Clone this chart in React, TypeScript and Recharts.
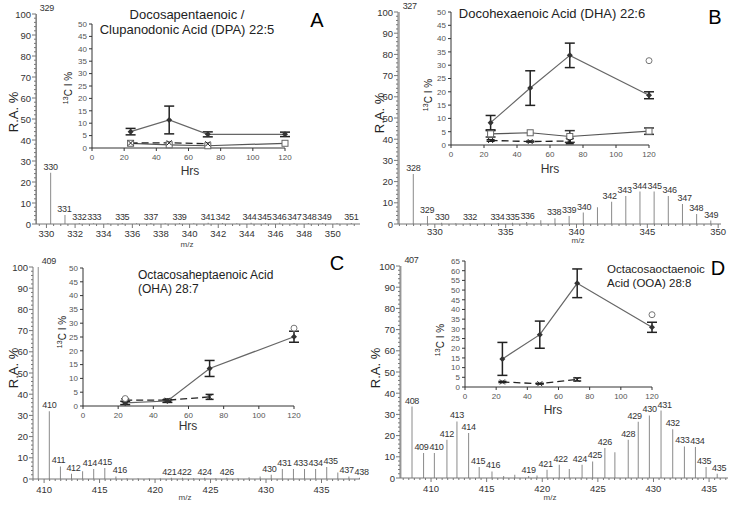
import React from 'react';
import { ComposedChart, Bar, Line, XAxis, YAxis, LabelList, ErrorBar } from 'recharts';

const FONT = '"Liberation Sans", Arial, sans-serif';

// ---- spectrum A : DPA 22:5
const aMz = [329.27, 330.27, 331.27, 332.27, 333.27, 334.27, 335.27, 336.27, 337.27, 338.27, 339.27, 340.27, 341.27, 342.27, 343.27, 344.27, 345.27, 346.27, 347.27, 348.27, 349.27, 350.27, 351.27];
const aRa = [100, 24.4, 4.3, 0.5, 0.4, 0.3, 0.5, 0.3, 0.5, 0.3, 0.5, 0.3, 0.6, 0.5, 0.3, 0.6, 0.5, 0.6, 0.5, 0.5, 0.5, 0.3, 0.5];
const aPeak = ['329', '330', '331', '332', '333', '', '335', '', '337', '', '339', '', '341', '342', '', '344', '345', '346', '347', '348', '349', '', '351'];
const aMajor = [330, 332, 334, 336, 338, 340, 342, 344, 346, 348, 350];

// ---- spectrum B : DHA 22:6
const bMz = [327.45, 328.45, 329.45, 330.45, 331.45, 332.45, 333.45, 334.45, 335.45, 336.45, 337.45, 338.45, 339.45, 340.45, 341.45, 342.45, 343.45, 344.45, 345.45, 346.45, 347.45, 348.45, 349.45];
const bRa = [100, 23.6, 3.8, 0.6, 0.3, 0.4, 0.3, 0.5, 0.6, 1.0, 1.8, 2.7, 3.8, 5.4, 7.9, 10.5, 13.2, 15.3, 15.3, 13.2, 9.4, 4.7, 1.6];
const bPeak = ['327', '328', '329', '330', '', '332', '', '334', '335', '336', '', '338', '339', '340', '', '342', '343', '344', '345', '346', '347', '348', '349'];
const bMajor = [330, 335, 340, 345, 350];

// ---- spectrum C : OHA 28:7
const cMz = [409.45, 410.45, 411.45, 412.45, 413.45, 414.45, 415.45, 416.45, 417.45, 418.45, 419.45, 420.45, 421.45, 422.45, 423.45, 424.45, 425.45, 426.45, 427.45, 428.45, 429.45, 430.45, 431.45, 432.45, 433.45, 434.45, 435.45, 436.45, 437.45, 438.4];
const cRa = [100, 32, 5.9, 2.5, 3.6, 4.7, 5.2, 1.2, 0.4, 0.3, 0.3, 0.3, 0.6, 0.6, 0.3, 0.6, 0.4, 0.6, 0.3, 0.8, 1.2, 2.0, 4.7, 4.7, 4.7, 4.7, 5.7, 3.1, 1.2, 0.6];
const cPeak = ['409', '410', '411', '412', '', '414', '415', '416', '', '', '', '', '421', '422', '', '424', '', '426', '', '', '', '430', '431', '', '433', '434', '435', '', '437', '438'];
const cMajor = [410, 415, 420, 425, 430, 435];

// ---- spectrum D : OOA 28:8
const dMz = [407.26, 408.26, 409.3, 410.27, 411.4, 412.3, 413.35, 414.3, 415.45, 416.5, 417.5, 418.75, 419.5, 420.4, 421.5, 422.4, 423.55, 424.5, 425.6, 426.5, 427.7, 428.6, 429.6, 430.65, 431.7, 432.75, 433.74, 434.7, 435.7];
const dRa = [100, 33.7, 11.8, 11.8, 18, 26.7, 21.2, 5.2, 3.1, 1.0, 1.5, 1.0, 1.2, 3.9, 6.3, 4.2, 6.3, 7.8, 14.1, 12.1, 18, 26.5, 29.5, 31.8, 23, 14.9, 14.6, 5.2, 2];
const dPeak = ['407', '408', '409', '410', '412', '413', '414', '415', '416', '', '', '419', '', '421', '422', '', '424', '425', '426', '', '428', '429', '430', '431', '432', '433', '434', '435', '435'];
const dMajor = [410, 415, 420, 425, 430, 435];

// ---- insets: 13C enrichment vs hours
const hrs = [24, 48, 72, 120];
const hrsShort = [24, 48, 72];
const hrTicks = [0, 20, 40, 60, 80, 100, 120];
const pctTicks50 = [0, 5, 10, 15, 20, 25, 30, 35, 40, 45, 50];
const pctTicks65 = [0, 5, 10, 15, 20, 25, 30, 35, 40, 45, 50, 55, 60, 65];

const aSolid = [6.6, 11.3, 5.5, 5.5];
const aSolidErr = [1.3, 5.6, 1.0, 0.9];
const aDash = [2.0, 2.1, 1.7];
const aSquare = [1.9, 1.3, 0.9, 1.9];

const bSolid = [8.4, 21.4, 33.7, 18.7];
const bSolidErr = [2.7, 6.5, 4.6, 1.3];
const bSquare = [4.2, 4.6, 3.2, 5.2];
const bSquareErr = [1.2, 0, 2.2, 1.2];
const bDash = [1.7, 1.3, 1.5];
const bDashErr = [0.3, 0.2, 1.0];
const bCircleHrs = [120];
const bCircle = [31.7];

const cSolid = [1.1, 1.8, 13.6, 25.1];
const cSolidErr = [0.6, 0.5, 2.9, 2.0];
const cDash = [2.1, 2.1, 3.3];
const cDashErr = [0.5, 0.4, 0.9];
const cCircleHrs = [24, 120];
const cCircle = [2.7, 28.2];

const dSolid = [14.5, 27, 53.5, 30.8];
const dSolidErr = [8.5, 7, 7.4, 2.6];
const dDash = [2.6, 1.7, 3.9];
const dDashErr = [0.3, 0.2, 0.8];
const dCircleHrs = [120];
const dCircle = [37.3];

const peaks = (mz: number[], ra: number[], lab: string[]) => mz.map((m, i) => ({ mz: m, ra: ra[i], label: lab[i] }));
const pts = (h: number[], v: number[], e?: number[]) => h.map((x, i) => ({ h: x, v: v[i], e: e ? e[i] : 0 }));
const range = (a: number, b: number, s: number) => {
	const out: number[] = [];
	for (let v = a; v <= b + 1e-9; v += s) out.push(Math.round(v * 100) / 100);
	return out;
};

// nudge peak labels sideways so neighbours at a similar height don't collide
const spreadLabels = (rows: any[], box: number[], domain: number[], w = 15, h = 9) => {
	const [x0, y0, x1, y1] = box;
	const items = rows.map((r, i) => ({
		i,
		x: x0 + ((r.mz - domain[0]) / (domain[1] - domain[0])) * (x1 - x0),
		y: y1 - (r.ra / 100) * (y1 - y0),
		on: !!r.label && r.ra < 90,
	}));
	const off = rows.map(() => 0);
	for (let it = 0; it < 60; it++) {
		for (let a = 0; a < items.length; a++) {
			for (let b = a + 1; b < items.length; b++) {
				const A = items[a], B = items[b];
				if (!A.on || !B.on || Math.abs(A.y - B.y) >= h) continue;
				const gap = B.x + off[b] - (A.x + off[a]);
				if (gap < w) {
					const push = (w - gap) / 2;
					off[a] -= push;
					off[b] += push;
				}
			}
		}
	}
	return off;
};

const SpecXTick = (p: any) => {
	const { x, y, payload, majors, labelDy } = p;
	const major = majors.some((m: number) => Math.abs(m - payload.value) < 1e-6);
	return (
		<g>
			<line x1={x} x2={x} y1={y} y2={y + (major ? 4 : 2)} stroke='#777' />
			{major && (
				<text x={x} y={y + labelDy} textAnchor='middle' fontSize={9.5} fill='#333' fontFamily={FONT}>
					{payload.value}
				</text>
			)}
		</g>
	);
};

const SpecYTick = (p: any) => {
	const { x, y, payload } = p;
	const major = payload.value % 10 === 0;
	return (
		<g>
			<line x1={x - (major ? 4 : 2)} x2={x} y1={y} y2={y} stroke='#777' />
			{major && (
				<text x={x - 5} y={y + 3.5} textAnchor='end' fontSize={9.5} fill='#333' fontFamily={FONT}>
					{payload.value}
				</text>
			)}
		</g>
	);
};

const PeakLabel = (p: any) => {
	const vb = p.viewBox || p;
	const { x, y, width, height } = vb;
	if (!p.value) return null;
	const tall = Math.abs(height) > 150;
	const dx = p.offsets ? p.offsets[p.index] || 0 : 0;
	return (
		<text
			x={tall ? x + 4 : x + width / 2 + dx}
			y={y - 3}
			textAnchor={tall ? 'start' : 'middle'}
			fontSize={9}
			letterSpacing={-0.3}
			fill='#333'
			fontFamily={FONT}
		>
			{p.value}
		</text>
	);
};

interface SpecProps {
	box: number[];
	domain: number[];
	majors: number[];
	rows: any[];
	labelDy?: number;
}

const Spectrum = ({ box, domain, majors, rows, labelDy = 13.5 }: SpecProps) => {
	const [x0, y0, x1, y1] = box;
	const yw = 40, mt = 20, mr = 12, xh = 30;
	const minor = range(Math.ceil(domain[0] * 2) / 2, domain[1], 0.5);
	const offsets = spreadLabels(rows, box, domain);
	return (
		<div style={{ position: 'absolute', left: x0 - yw, top: y0 - mt }}>
			<ComposedChart
				width={x1 - x0 + yw + mr}
				height={y1 - y0 + mt + xh}
				data={rows}
				margin={{ top: mt, right: mr, bottom: 0, left: 0 }}
			>
				<XAxis
					dataKey='mz'
					type='number'
					domain={domain}
					ticks={minor}
					interval={0}
					tickLine={false}
					tickSize={0}
					tickMargin={0}
					height={xh}
					stroke='#777'
					tick={(t: any) => <SpecXTick {...t} majors={majors} labelDy={labelDy} />}
				/>
				<YAxis
					type='number'
					domain={[0, 100]}
					ticks={range(0, 100, 2)}
					interval={0}
					width={yw}
					tickLine={false}
					tickSize={0}
					tickMargin={0}
					stroke='#777'
					tick={(t: any) => <SpecYTick {...t} />}
				/>
				<Bar dataKey='ra' barSize={1} fill='#8a8a8a' isAnimationActive={false}>
					<LabelList dataKey='label' content={(l: any) => <PeakLabel {...l} offsets={offsets} />} />
				</Bar>
			</ComposedChart>
		</div>
	);
};

const Diamond = (p: any) => {
	const { cx, cy } = p;
	if (cx == null || cy == null) return null;
	return <polygon points={`${cx},${cy - 3} ${cx + 3},${cy} ${cx},${cy + 3} ${cx - 3},${cy}`} fill='#333' />;
};
const Cross = (p: any) => {
	const { cx, cy } = p;
	if (cx == null || cy == null) return null;
	return (
		<g stroke='#222' strokeWidth={1}>
			<line x1={cx - 2.5} y1={cy - 2.5} x2={cx + 2.5} y2={cy + 2.5} />
			<line x1={cx - 2.5} y1={cy + 2.5} x2={cx + 2.5} y2={cy - 2.5} />
		</g>
	);
};
const Square = (p: any) => {
	const { cx, cy } = p;
	if (cx == null || cy == null) return null;
	return <rect x={cx - 3} y={cy - 3} width={6} height={6} fill='#fff' stroke='#666' />;
};
const Circle = (p: any) => {
	const { cx, cy } = p;
	if (cx == null || cy == null) return null;
	return <circle cx={cx} cy={cy} r={3} fill='#fff' stroke='#777' />;
};

interface InsetProps {
	box: number[];
	yTicks: number[];
	solid: any[];
	dash: any[];
	square?: any[];
	circle?: any[];
}

const Inset = ({ box, yTicks, solid, dash, square, circle }: InsetProps) => {
	const [x0, y0, x1, y1] = box;
	const yw = 26, mt = 6, mr = 8, xh = 20;
	const tickStyle = { fontSize: 8, fill: '#555', fontFamily: FONT };
	return (
		<div style={{ position: 'absolute', left: x0 - yw, top: y0 - mt }}>
			<ComposedChart
				width={x1 - x0 + yw + mr}
				height={y1 - y0 + mt + xh}
				margin={{ top: mt, right: mr, bottom: 0, left: 0 }}
			>
				<XAxis
					dataKey='h'
					type='number'
					domain={[0, 120]}
					ticks={hrTicks}
					interval={0}
					tickSize={3}
					tickMargin={3}
					height={xh}
					stroke='#333'
					tick={tickStyle}
				/>
				<YAxis
					type='number'
					domain={[0, yTicks[yTicks.length - 1]]}
					ticks={yTicks}
					interval={0}
					width={yw}
					tickSize={3}
					tickMargin={2}
					stroke='#333'
					tick={tickStyle}
				/>
				{square && (
					<Line
						data={square}
						dataKey='v'
						stroke='#555'
						strokeWidth={1.2}
						isAnimationActive={false}
						dot={(d: any) => <Square key={`s${d.index}`} {...d} />}
					>
						<ErrorBar dataKey='e' width={5} stroke='#333' direction='y' />
					</Line>
				)}
				<Line
					data={dash}
					dataKey='v'
					stroke='#222'
					strokeWidth={1.3}
					strokeDasharray='7 4'
					isAnimationActive={false}
					dot={(d: any) => <Cross key={`x${d.index}`} {...d} />}
				>
					<ErrorBar dataKey='e' width={4} stroke='#222' direction='y' />
				</Line>
				<Line
					data={solid}
					dataKey='v'
					stroke='#666'
					strokeWidth={1.2}
					isAnimationActive={false}
					dot={(d: any) => <Diamond key={`d${d.index}`} {...d} />}
				>
					<ErrorBar dataKey='e' width={5} stroke='#222' direction='y' />
				</Line>
				{circle && (
					<Line
						data={circle}
						dataKey='v'
						stroke='none'
						isAnimationActive={false}
						dot={(d: any) => <Circle key={`c${d.index}`} {...d} />}
					/>
				)}
			</ComposedChart>
		</div>
	);
};

const Txt = ({ x, y, size, anchor = 'middle', rotate = false, color = '#222', children }: any) => (
	<div
		style={{
			position: 'absolute',
			left: x,
			top: y,
			transform: `translate(${anchor === 'start' ? '0' : '-50%'}, -50%)${rotate ? ' rotate(-90deg)' : ''}`,
			fontSize: size,
			fontFamily: FONT,
			whiteSpace: 'nowrap',
			lineHeight: 1,
			color,
		}}
	>
		{children}
	</div>
);

const CLabel = () => (
	<span>
		<sup style={{ fontSize: '0.7em' }}>13</sup>C I %
	</span>
);

export default function App() {
	return (
		<div style={{ position: 'absolute', left: 0, top: 0, width: 733, height: 505, background: '#fff', overflow: 'hidden' }}>
			<Spectrum box={[36, 14, 360, 224]} domain={[329.3, 351.9]} majors={aMajor} rows={peaks(aMz, aRa, aPeak)} labelDy={13} />
			<Spectrum box={[398, 12, 721, 224]} domain={[327.4, 350.2]} majors={bMajor} rows={peaks(bMz, bRa, bPeak)} labelDy={10.5} />
			<Spectrum box={[33, 267, 360, 479]} domain={[409.0, 438.47]} majors={cMajor} rows={peaks(cMz, cRa, cPeak)} />
			<Spectrum box={[400, 266, 728, 478]} domain={[407.21, 436.7]} majors={dMajor} rows={peaks(dMz, dRa, dPeak)} />

			<Inset box={[92, 24, 285, 148]} yTicks={pctTicks50} solid={pts(hrs, aSolid, aSolidErr)} dash={pts(hrsShort, aDash)} square={pts(hrs, aSquare)} />
			<Inset
				box={[451, 12, 649, 145]}
				yTicks={pctTicks50}
				solid={pts(hrs, bSolid, bSolidErr)}
				dash={pts(hrsShort, bDash, bDashErr)}
				square={pts(hrs, bSquare, bSquareErr)}
				circle={pts(bCircleHrs, bCircle)}
			/>
			<Inset box={[83, 268, 294, 406]} yTicks={pctTicks50} solid={pts(hrs, cSolid, cSolidErr)} dash={pts(hrsShort, cDash, cDashErr)} circle={pts(cCircleHrs, cCircle)} />
			<Inset box={[465, 261, 652, 387]} yTicks={pctTicks65} solid={pts(hrs, dSolid, dSolidErr)} dash={pts(hrsShort, dDash, dDashErr)} circle={pts(dCircleHrs, dCircle)} />

			{/* axis titles */}
			<Txt x={13} y={112} size={13} rotate>R.A. %</Txt>
			<Txt x={379} y={113} size={13} rotate>R.A. %</Txt>
			<Txt x={13} y={368} size={13} rotate>R.A. %</Txt>
			<Txt x={375} y={368} size={13} rotate>R.A. %</Txt>
			<Txt x={187} y={245} size={8} color='#444'>m/z</Txt>
			<Txt x={578} y={241} size={8} color='#444'>m/z</Txt>
			<Txt x={185} y={498} size={8} color='#444'>m/z</Txt>
			<Txt x={550} y={498} size={8} color='#444'>m/z</Txt>

			<Txt x={68} y={88} size={10} rotate><CLabel /></Txt>
			<Txt x={428} y={95} size={10} rotate><CLabel /></Txt>
			<Txt x={62} y={332} size={10} rotate><CLabel /></Txt>
			<Txt x={440} y={340} size={10} rotate><CLabel /></Txt>
			<Txt x={190} y={171} size={12} color='#333'>Hrs</Txt>
			<Txt x={550} y={169} size={12} color='#333'>Hrs</Txt>
			<Txt x={188} y={426} size={12} color='#333'>Hrs</Txt>
			<Txt x={553} y={410} size={12} color='#333'>Hrs</Txt>

			{/* panel titles */}
			<Txt x={187} y={13.5} size={13}>Docosapentaenoic /</Txt>
			<Txt x={187} y={28.5} size={13}>Clupanodonic Acid (DPA) 22:5</Txt>
			<Txt x={552} y={13} size={13}>Docohexaenoic Acid (DHA) 22:6</Txt>
			<Txt x={138} y={275} size={12} anchor='start'>Octacosaheptaenoic Acid</Txt>
			<Txt x={138} y={289} size={12} anchor='start'>(OHA) 28:7</Txt>
			<Txt x={607} y={270} size={11.5} anchor='start'>Octacosaoctaenoic</Txt>
			<Txt x={607} y={284} size={11.5} anchor='start'>Acid (OOA) 28:8</Txt>

			<Txt x={317} y={20} size={20} color='#000'>A</Txt>
			<Txt x={715} y={17} size={20} color='#000'>B</Txt>
			<Txt x={337} y={263} size={20} color='#000'>C</Txt>
			<Txt x={718} y={268} size={20} color='#000'>D</Txt>
		</div>
	);
}
